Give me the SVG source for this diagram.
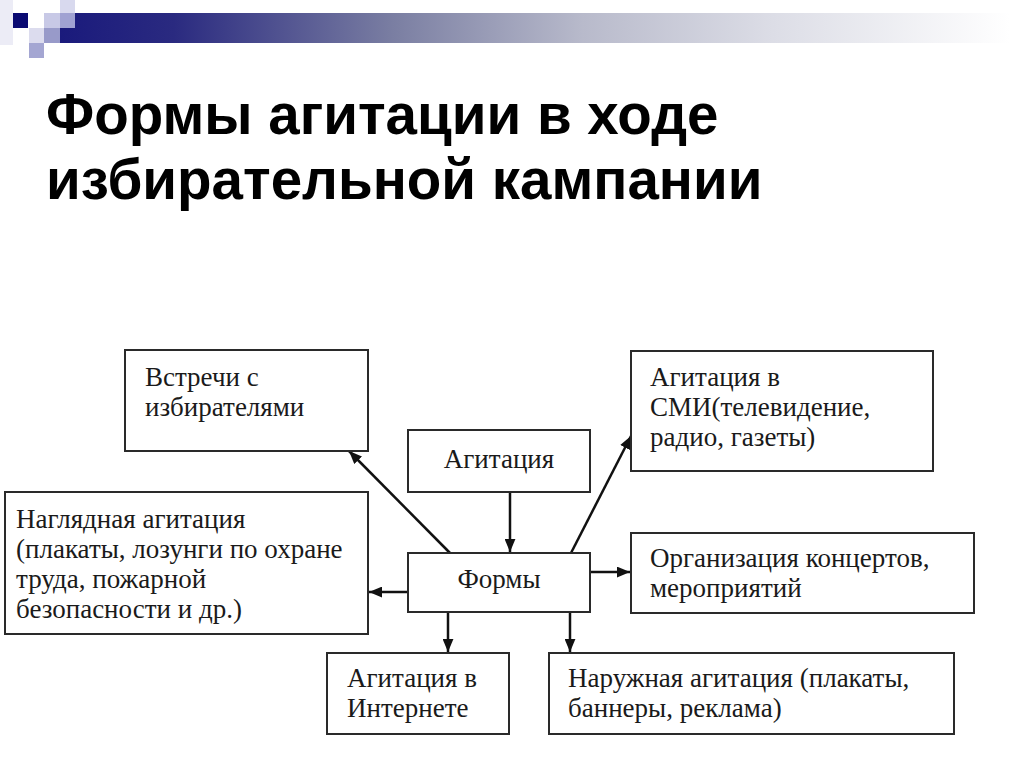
<svg xmlns="http://www.w3.org/2000/svg" width="1024" height="767" viewBox="0 0 1024 767">
  <defs>
    <linearGradient id="bar" x1="60" y1="0" x2="1010" y2="0" gradientUnits="userSpaceOnUse">
      <stop offset="0" stop-color="#1a1a7c"/>
      <stop offset="0.12" stop-color="#2a2a80"/>
      <stop offset="0.35" stop-color="#7a7ea2"/>
      <stop offset="0.55" stop-color="#b8bacb"/>
      <stop offset="0.75" stop-color="#dcdde6"/>
      <stop offset="1" stop-color="#ffffff"/>
    </linearGradient>
    <marker id="arr" viewBox="0 0 12 10" refX="12" refY="5" markerWidth="13" markerHeight="11" markerUnits="userSpaceOnUse" orient="auto">
      <path d="M0,0 L12,5 L0,10 Z" fill="#111"/>
    </marker>
    <style>
      .title { font-family: "Liberation Sans", Arial, sans-serif; font-weight: bold; font-size: 56.5px; fill: #000; }
      .box { fill: #fff; stroke: #2a2a2a; stroke-width: 2; }
      .lbl { font-family: "Liberation Serif", "Times New Roman", serif; font-size: 27px; fill: #1a1a1a; }
      .conn { stroke: #111; stroke-width: 2.5; fill: none; marker-end: url(#arr); }
    </style>
  </defs>
  <rect width="1024" height="767" fill="#fff"/>

  <g id="decor">
    <rect x="0" y="0" width="13" height="45" fill="#ececf6"/>
    <rect x="60" y="13" width="950" height="30" fill="url(#bar)"/>
    <rect x="13" y="13" width="15" height="15" fill="#0a0a72"/>
    <rect x="29" y="28" width="15" height="15" fill="#dcdcee"/>
    <rect x="29" y="43" width="15" height="15" fill="#a4a6d2"/>
    <rect x="44" y="13" width="16" height="15" fill="#c8c9e6"/>
    <rect x="44" y="28" width="16" height="15" fill="#989ac9"/>
    <rect x="60" y="0" width="15" height="13" fill="#d8d9ee"/>
    <rect x="60" y="13" width="15" height="15" fill="#a0a2d2"/>
  </g>

  <g id="title">
    <text class="title" x="46" y="134">Формы агитации в ходе</text>
    <text class="title" x="46" y="199">избирательной кампании</text>
  </g>

  <g id="connectors">
    <line class="conn" x1="510" y1="492" x2="510" y2="552"/>
    <line class="conn" x1="450" y1="553" x2="349" y2="451"/>
    <line class="conn" x1="571" y1="553" x2="631" y2="436"/>
    <line class="conn" x1="408" y1="592" x2="369" y2="592"/>
    <line class="conn" x1="590" y1="572" x2="630" y2="572"/>
    <line class="conn" x1="448" y1="612" x2="448" y2="652"/>
    <line class="conn" x1="570" y1="612" x2="570" y2="652"/>
  </g>

  <g id="node-vstrechi">
    <rect class="box" x="125" y="350" width="243" height="101"/>
    <text class="lbl" x="145" y="386">Встречи с</text>
    <text class="lbl" x="145" y="416">избирателями</text>
  </g>

  <g id="node-agitaciya">
    <rect class="box" x="408" y="430" width="182" height="62"/>
    <text class="lbl" x="499" y="468" text-anchor="middle">Агитация</text>
  </g>

  <g id="node-naglyadnaya">
    <rect class="box" x="5" y="492" width="363" height="142"/>
    <text class="lbl" x="16" y="528">Наглядная агитация</text>
    <text class="lbl" x="16" y="558">(плакаты, лозунги по охране</text>
    <text class="lbl" x="16" y="588">труда, пожарной</text>
    <text class="lbl" x="16" y="618">безопасности и др.)</text>
  </g>

  <g id="node-formy">
    <rect class="box" x="408" y="553" width="182" height="59"/>
    <text class="lbl" x="499" y="588" text-anchor="middle">Формы</text>
  </g>

  <g id="node-smi">
    <rect class="box" x="631" y="351" width="302" height="120"/>
    <text class="lbl" x="650" y="386">Агитация в</text>
    <text class="lbl" x="650" y="416">СМИ(телевидение,</text>
    <text class="lbl" x="650" y="446">радио, газеты)</text>
  </g>

  <g id="node-koncerty">
    <rect class="box" x="631" y="533" width="343" height="80"/>
    <text class="lbl" x="650" y="567">Организация концертов,</text>
    <text class="lbl" x="650" y="597">мероприятий</text>
  </g>

  <g id="node-internet">
    <rect class="box" x="327" y="653" width="182" height="81"/>
    <text class="lbl" x="347" y="687">Агитация в</text>
    <text class="lbl" x="347" y="717">Интернете</text>
  </g>

  <g id="node-naruzhnaya">
    <rect class="box" x="549" y="653" width="405" height="81"/>
    <text class="lbl" x="568" y="687">Наружная агитация (плакаты,</text>
    <text class="lbl" x="568" y="717">баннеры, реклама)</text>
  </g>
</svg>
